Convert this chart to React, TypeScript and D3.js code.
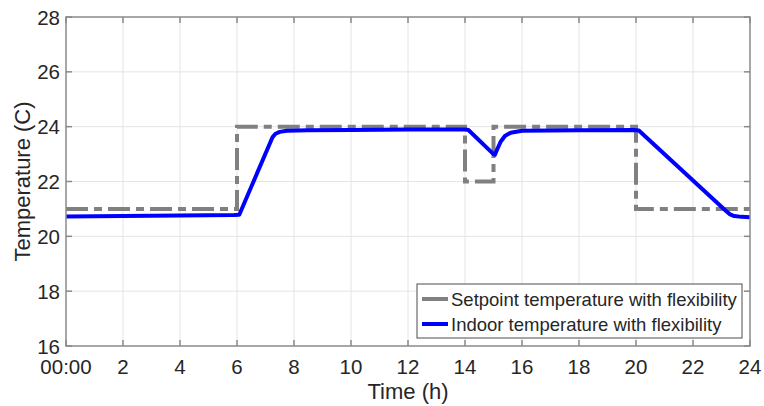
import React from "react";
import * as d3 from "d3";

// Setpoint schedule (step after each change hour)
const setHours = [0, 6, 14, 15, 20, 24];
const setTemps = [21, 24, 22, 24, 21, 21];

// Indoor temperature response
const inHours = [0, 3, 5.9, 6.08, 7.25, 7.35, 7.5, 7.75, 8.5, 10, 12, 14.0, 14.12, 15.0, 15.05, 15.12, 15.25, 15.4, 15.6, 16, 18, 19.95, 20.1, 23.15, 23.3, 23.45, 23.7, 24];
const inTemps = [20.72, 20.75, 20.78, 20.79, 23.62, 23.74, 23.81, 23.85, 23.87, 23.88, 23.9, 23.9, 23.88, 23.0, 22.98, 23.15, 23.45, 23.66, 23.78, 23.85, 23.87, 23.88, 23.86, 20.93, 20.8, 20.74, 20.71, 20.7];

const xTicks = [0, 2, 4, 6, 8, 10, 12, 14, 16, 18, 20, 22, 24];
const xTickLabels = ["00:00", "2", "4", "6", "8", "10", "12", "14", "16", "18", "20", "22", "24"];
const yTicks = [16, 18, 20, 22, 24, 26, 28];

const legendLabels = ["Setpoint temperature with flexibility", "Indoor temperature with flexibility"];

const W = 764;
const H = 406;
const M = { left: 66, right: 14, top: 17, bottom: 60 };
const FONT = "'Liberation Sans', Arial, Helvetica, sans-serif";
const TEXT = "#262626";
const AXIS = "#8a8a8a";
const GRID = "#e4e4e4";
const GRAY = "#808080";
const BLUE = "#0000ff";

export default function App() {
  const x = d3.scaleLinear().domain([0, 24]).range([M.left, W - M.right]);
  const y = d3.scaleLinear().domain([16, 28]).range([H - M.bottom, M.top]);
  const [x0, x1] = x.range();
  const [y0, y1] = y.range();

  const setLine = d3
    .line<number>()
    .x((_, i) => x(setHours[i]))
    .y((d) => y(d))
    .curve(d3.curveStepAfter)(setTemps) as string;

  const inLine = d3
    .line<number>()
    .x((_, i) => x(inHours[i]))
    .y((d) => y(d))
    .curve(d3.curveLinear)(inTemps) as string;

  const tickLen = 6;
  const legX = 417;
  const legY = 284;
  const legW = 325;
  const legH = 54;

  return (
    <svg
      width={W}
      height={H}
      style={{ position: "absolute", left: 0, top: 0, background: "#fff" }}
      fontFamily={FONT}
    >
      <defs>
        <clipPath id="plotArea">
          <rect x={x0} y={y1} width={x1 - x0} height={y0 - y1} />
        </clipPath>
      </defs>

      {/* grid */}
      {xTicks.slice(1, -1).map((t) => (
        <line key={"gx" + t} x1={x(t)} x2={x(t)} y1={y0} y2={y1} stroke={GRID} strokeWidth={1} />
      ))}
      {yTicks.slice(1, -1).map((t) => (
        <line key={"gy" + t} x1={x0} x2={x1} y1={y(t)} y2={y(t)} stroke={GRID} strokeWidth={1} />
      ))}

      {/* series */}
      <g clipPath="url(#plotArea)">
        <path d={setLine} fill="none" stroke={GRAY} strokeWidth={4} strokeDasharray="22 6 8 6" />
        <path d={inLine} fill="none" stroke={BLUE} strokeWidth={4} strokeLinejoin="round" />
      </g>

      {/* box and ticks */}
      <rect x={x0} y={y1} width={x1 - x0} height={y0 - y1} fill="none" stroke={AXIS} strokeWidth={1.5} />
      {xTicks.map((t) => (
        <g key={"tx" + t}>
          <line x1={x(t)} x2={x(t)} y1={y0} y2={y0 - tickLen} stroke={AXIS} strokeWidth={1.5} />
          <line x1={x(t)} x2={x(t)} y1={y1} y2={y1 + tickLen} stroke={AXIS} strokeWidth={1.5} />
        </g>
      ))}
      {yTicks.map((t) => (
        <g key={"ty" + t}>
          <line x1={x0} x2={x0 + tickLen} y1={y(t)} y2={y(t)} stroke={AXIS} strokeWidth={1.5} />
          <line x1={x1} x2={x1 - tickLen} y1={y(t)} y2={y(t)} stroke={AXIS} strokeWidth={1.5} />
        </g>
      ))}

      {/* tick labels */}
      {xTicks.map((t, i) => (
        <text key={"lx" + t} x={x(t)} y={374} textAnchor="middle" fontSize={20.5} fill={TEXT}>
          {xTickLabels[i]}
        </text>
      ))}
      {yTicks.map((t) => (
        <text key={"ly" + t} x={60} y={y(t) + 7.5} textAnchor="end" fontSize={20.5} fill={TEXT}>
          {t}
        </text>
      ))}

      {/* axis titles */}
      <text x={(x0 + x1) / 2} y={399} textAnchor="middle" fontSize={22} fill={TEXT}>
        Time (h)
      </text>
      <text
        transform={`translate(30,${(y0 + y1) / 2}) rotate(-90)`}
        textAnchor="middle"
        fontSize={22}
        fill={TEXT}
      >
        Temperature (C)
      </text>

      {/* legend */}
      <rect x={legX} y={legY} width={legW} height={legH} fill="#fff" stroke="#4d4d4d" strokeWidth={1} />
      <line x1={422} x2={448} y1={299} y2={299} stroke={GRAY} strokeWidth={4} />
      <line x1={422} x2={448} y1={324} y2={324} stroke={BLUE} strokeWidth={4} />
      <text x={451} y={306} fontSize={18.5} fill={TEXT}>
        {legendLabels[0]}
      </text>
      <text x={451} y={331} fontSize={18.5} fill={TEXT}>
        {legendLabels[1]}
      </text>
    </svg>
  );
}
